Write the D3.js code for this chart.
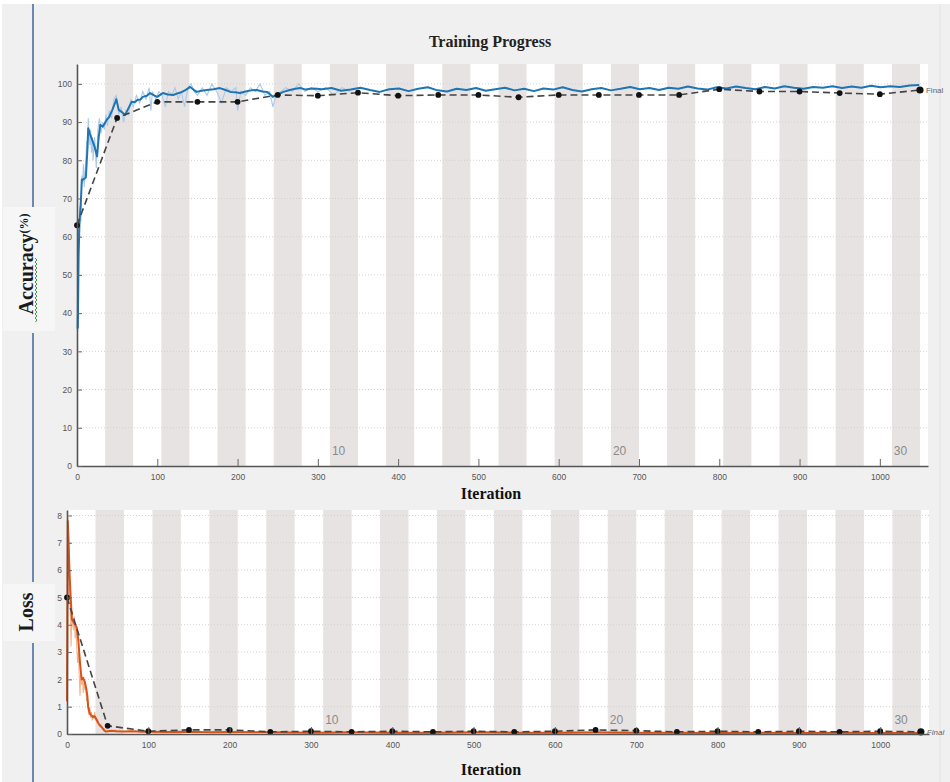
<!DOCTYPE html>
<html><head><meta charset="utf-8">
<script src="https://cdn.jsdelivr.net/npm/d3@7"></script>
<style>
html,body{margin:0;padding:0;background:#fff;}
svg{display:block;}
</style></head>
<body>
<script>
// ---------------- DATA ----------------
const itersPerEpoch = 35;
const numEpochs = 30;
const epochLabels = [10, 20, 30];
const iterTicks = [0,100,200,300,400,500,600,700,800,900,1000];
const accTicks = [0,10,20,30,40,50,60,70,80,90,100];
const lossTicks = [0,1,2,3,4,5,6,7,8];
const valIters = [0,50,100,150,200,250,300,350,400,450,500,550,600,650,700,750,800,850,900,950,1000,1050];

// smoothed training accuracy [iteration, %]
const trainAccSmooth = [
 [1,36],[2,55],[3,63],[5,70],[6,75],[8,75],[11,75.5],[13,83],[14,88.4],[16,87],[19,85.3],[22,83.5],[25,81],
 [27,86],[29,89.3],[32,88.8],[35,89.8],[37,90.6],[40,91.3],[44,93.2],[47,94.8],[49,96],[52,93.2],[56,92.6],
 [60,91.9],[64,93.6],[68,95.3],[72,95.2],[75,95.8],[79,95.9],[82,96.6],[87,96.9],[91,97.6],[96,97.0],[100,96.6],
 [104,97.2],[107,97.6],[113,97.2],[120,97.1],[125,97.5],[131,97.9],[136,98.5],[141,99.2],[145,98.5],[149,97.9],
 [155,98.2],[162,98.4],[170,98.6],[178,98.9],[185,98.4],[191,97.9],[197,97.8],[203,97.6],[210,98.0],[217,98.3],
 [224,98.4],[231,98.0],[237,97.9],[244,96.6],[250,97.2],[257,97.9],[265,98.4],[272,98.7],[278,98.9],[285,98.5],
 [292,98.8],[299,98.7],
 [305,98.6],[317,98.9],[329,98.2],[341,98.5],[353,99.0],[365,98.4],[377,97.9],[389,98.6],[401,98.8],[413,98.1],
 [425,98.7],[437,99.1],[449,98.3],[461,98.0],[473,98.7],[485,98.4],[497,98.9],[509,98.2],[521,98.6],[533,99.0],
 [545,98.3],[557,98.7],[569,98.1],[581,98.8],[593,98.5],[605,99.1],[617,98.4],[629,98.0],[641,98.6],[653,98.9],
 [665,98.3],[677,98.7],[689,99.2],[701,98.6],[713,98.9],[725,98.4],[737,99.0],[749,98.7],[761,99.3],[773,98.8],
 [785,98.5],[797,99.1],[809,98.8],[821,99.3],[833,98.9],[845,98.6],[857,99.2],[869,98.8],[881,99.4],[893,99.0],
 [905,98.7],[917,99.2],[929,99.0],[941,99.4],[953,98.9],[965,99.3],[977,99.0],[989,99.5],[1001,99.1],[1013,99.4],
 [1025,99.2],[1037,99.6],[1049,99.7]
];
// raw training accuracy [iteration, %]
const trainAccRaw = [
 [0,36],[1,48],[2,62],[3,66],[4,68],[5,64],[6,76],[7,74],[8,79],[9,73],[10,77],[11,80],[12,85],[13,82],[14,91],
 [15,87],[16,84],[17,88],[18,82],[19,86],[20,80],[22,86],[24,78],[26,88],[28,91],[30,87],[32,90],[34,88],[36,92],
 [38,89],[40,93],[43,91],[46,96],[49,97],[52,92],[55,94],[58,90],[61,93],[64,92],[67,96],[70,94],[74,97],[78,95],
 [82,98],[86,96],[90,99],[92,93],[94,98],[98,96],[102,98],[106,97],[110,94],[114,98],[118,97],[122,99],[126,96],
 [130,98],[134,94],[138,99],[142,100],[146,98],[150,97],[156,99],[162,97],[168,100],[174,98],[180,95],[186,99],
 [192,98],[198,99],[200,93],[204,98],[210,97],[216,99],[222,98],[228,100],[234,97],[240,98],[244,94],[248,97],
 [254,98],[260,99],[268,98],[276,100],[284,98],[292,99],[300,98],[310,99],[320,97],[330,99],[340,98]
];
// validation accuracy at valIters
const valAcc = [63.0,91.1,95.3,95.3,95.3,97.1,96.9,97.7,96.9,97.1,97.1,96.5,97.1,97.1,97.1,97.1,98.6,98.0,98.0,97.6,97.3,98.4];

// smoothed training loss [iteration, loss]
const trainLossSmooth = [
 [0,1.2],[1,7.8],[2,7.0],[3,6.0],[4,5.3],[6,4.2],[8,4.1],[10,4.0],[12,3.9],[14,3.4],[16,2.6],[18,2.0],[20,2.05],
 [22,1.9],[24,1.6],[25,1.4],[26,1.0],[28,0.75],[30,0.68],[32,0.62],[34,0.65],[36,0.55],[38,0.42],[40,0.33],
 [43,0.24],[46,0.12],[48,0.09],[50,0.1],[55,0.12],[60,0.1],[70,0.09],[80,0.1],[90,0.08],[100,0.08],[125,0.07],
 [150,0.08],[175,0.06],[200,0.07],[250,0.06],[300,0.05],[350,0.06],[400,0.05],[450,0.05],[500,0.06],[550,0.05],
 [600,0.05],[650,0.06],[700,0.05],[750,0.05],[800,0.04],[850,0.05],[900,0.04],[950,0.05],[1000,0.04],[1050,0.04]
];
// raw training loss [iteration, loss]
const trainLossRaw = [
 [0,1.2],[1,7.9],[2,6.5],[3,5.0],[4,4.6],[5,3.2],[6,4.5],[7,4.0],[8,3.8],[9,4.3],[10,3.5],[11,4.0],[12,3.2],
 [13,2.6],[14,3.0],[15,2.2],[16,1.4],[17,2.3],[18,1.8],[19,2.1],[20,1.5],[21,2.0],[22,1.6],[23,1.8],[24,1.2],
 [25,1.5],[26,0.9],[27,0.7],[28,1.0],[29,0.6],[30,0.8],[31,0.5],[32,0.7],[33,0.55],[34,0.8],[35,0.5],[36,0.6],
 [37,0.4],[38,0.5],[40,0.3],[42,0.35],[44,0.15],[46,0.2],[48,0.08],[50,0.1],[60,0.14],[70,0.08],[80,0.12],
 [100,0.07],[120,0.1],[150,0.06],[200,0.08],[300,0.05],[400,0.05],[600,0.04],[800,0.04],[1050,0.04]
];
// validation loss at valIters
const valLoss = [5.0,0.3,0.1,0.15,0.15,0.08,0.1,0.08,0.1,0.08,0.1,0.08,0.1,0.15,0.12,0.08,0.1,0.08,0.1,0.08,0.1,0.08];

// ---------------- DRAW ----------------
const W = 950, H = 782;
const svg = d3.select("body").append("svg").attr("width", W).attr("height", H);

svg.append("rect").attr("x",0).attr("y",0).attr("width",W).attr("height",H).attr("fill","#ffffff");
svg.append("rect").attr("x",2).attr("y",4).attr("width",W-2).attr("height",H-4).attr("fill","#f1f0f0");
svg.append("line").attr("x1",940).attr("x2",940).attr("y1",4).attr("y2",H).attr("stroke","#e2e2e2").attr("stroke-width",1);

const serif = "'Liberation Serif','Times New Roman',serif";
const narrow = "'Liberation Sans Narrow','Liberation Sans',Arial,sans-serif";

// left panel line and label boxes
const leftSegs = [[4,207],[333,582],[643,782]];
svg.selectAll("line.lp").data(leftSegs).enter().append("line")
  .attr("x1",33).attr("x2",33).attr("y1",d=>d[0]).attr("y2",d=>d[1])
  .attr("stroke","#6a88b4").attr("stroke-width",2);
svg.append("rect").attr("x",3).attr("y",207).attr("width",52).attr("height",124).attr("fill","#f6f6f6");
svg.append("rect").attr("x",3).attr("y",584).attr("width",52).attr("height",57).attr("fill","#f6f6f6");

svg.append("text").attr("x",490).attr("y",47).attr("text-anchor","middle")
  .attr("font-family",serif).attr("font-weight","bold").attr("font-size",16).attr("fill","#222")
  .text("Training Progress");

function panel(cfg){
  const x = d3.scaleLinear().domain([0,1060]).range([cfg.x0, cfg.x1]);
  const y = d3.scaleLinear().domain([0,cfg.ymax]).range([cfg.y0, cfg.y1]);
  const g = svg.append("g");
  g.append("rect").attr("x",cfg.x0).attr("y",cfg.y1).attr("width",cfg.x1-cfg.x0).attr("height",cfg.y0-cfg.y1).attr("fill","#ffffff");
  const shaded = d3.range(1, numEpochs+1).filter(e => e % 2 === 0);
  g.selectAll("rect.band").data(shaded).enter().append("rect")
    .attr("x", e => x((e-1)*itersPerEpoch)).attr("width", e => x(e*itersPerEpoch)-x((e-1)*itersPerEpoch))
    .attr("y", cfg.y1).attr("height", cfg.y0-cfg.y1).attr("fill","#e7e3e3");
  // grid
  g.selectAll("line.grid").data(cfg.yticks.filter(t=>t>0)).enter().append("line")
    .attr("x1",cfg.x0).attr("x2",cfg.x1).attr("y1",d=>y(d)).attr("y2",d=>y(d))
    .attr("stroke","#d2d2d2").attr("stroke-width",1).attr("stroke-dasharray","1,2");
  // epoch labels
  g.selectAll("text.ep").data(epochLabels).enter().append("text")
    .attr("x", e => x((e-1)*itersPerEpoch)+2).attr("y", cfg.epY)
    .attr("font-family","'Liberation Sans',Arial,sans-serif").attr("font-size",12).attr("fill","#8a8a8a")
    .text(e => e);
  // raw + smooth lines
  const line = d3.line().x(d=>x(d[0])).y(d=>y(d[1]));
  g.append("path").datum(cfg.raw).attr("d",line).attr("fill","none")
    .attr("stroke",cfg.rawColor).attr("stroke-width",1.1);
  g.append("path").datum(cfg.smooth).attr("d",line).attr("fill","none")
    .attr("stroke",cfg.color).attr("stroke-width",2).attr("stroke-linejoin","round");
  // validation
  const vpts = valIters.map((it,i)=>[it, cfg.val[i]]);
  g.append("path").datum(vpts).attr("d",line).attr("fill","none")
    .attr("stroke","#444").attr("stroke-width",1.6).attr("stroke-dasharray","7,4");
  g.selectAll("circle.v").data(vpts).enter().append("circle")
    .attr("cx",d=>x(d[0])).attr("cy",d=>y(d[1])).attr("r",(d,i)=> i===vpts.length-1?3.6:2.9).attr("fill","#111");
  const last = vpts[vpts.length-1];
  g.append("text").attr("x", x(last[0])+6).attr("y", y(last[1])+3)
    .attr("font-family",narrow).attr("font-size",8).attr("fill","#666").attr("font-style",cfg.finalItalic?"italic":"normal")
    .text("Final");
  // axes
  const ax = g.append("g").attr("transform",`translate(0,${cfg.y0})`)
    .call(d3.axisBottom(x).tickValues(iterTicks).tickFormat(d3.format("d")).tickSizeInner(-7).tickSizeOuter(0).tickPadding(8));
  const ay = g.append("g").attr("transform",`translate(${cfg.x0},0)`)
    .call(d3.axisLeft(y).tickValues(cfg.yticks).tickFormat(d3.format("d")).tickSizeInner(-5).tickSizeOuter(0).tickPadding(5));
  [ax, ay].forEach(a => {
    a.select(".domain").attr("stroke","#555").attr("stroke-width",1.6);
    a.selectAll(".tick line").attr("stroke","#666");
    a.selectAll(".tick text").attr("font-family",narrow).attr("font-size",8.5).attr("fill","#555");
  });
  g.append("text").attr("x",491).attr("y",cfg.xlabY).attr("text-anchor","middle")
    .attr("font-family",serif).attr("font-weight","bold").attr("font-size",16).attr("fill","#111")
    .text("Iteration");
}

panel({x0:77, x1:928, y0:466, y1:64, ymax:105.2, yticks:accTicks, epY:455, xlabY:499,
  raw:trainAccRaw, smooth:trainAccSmooth, val:valAcc, color:"#1f74b4", rawColor:"#a9cbe9", finalItalic:false});
panel({x0:67, x1:929, y0:734, y1:510, ymax:8.2, yticks:lossTicks, epY:724, xlabY:775,
  raw:trainLossRaw, smooth:trainLossSmooth, val:valLoss, color:"#d95319", rawColor:"#f3b48f", finalItalic:true});

// y labels
const ya = svg.append("text").attr("transform","translate(33,264) rotate(-90)").attr("text-anchor","middle")
  .attr("font-family",serif).attr("font-weight","bold").attr("fill","#1a1a1a");
ya.append("tspan").attr("font-size",20).text("Accuracy");
ya.append("tspan").attr("font-size",12).attr("dy",-5).text("(%)");
svg.append("text").attr("transform","translate(33,612) rotate(-90)").attr("text-anchor","middle")
  .attr("font-family",serif).attr("font-weight","bold").attr("font-size",20).attr("fill","#1a1a1a")
  .text("Loss");
// spell-check squiggle under "Accuracy"
const sq = d3.path(); sq.moveTo(35.5, 322);
for (let yy = 322, k = 0; yy > 258; yy -= 2, k++) sq.lineTo(k % 2 ? 35 : 37, yy - 2);
svg.append("path").attr("d", sq.toString()).attr("fill","none").attr("stroke","#3c9a45").attr("stroke-width",1);
</script>
</body></html>
